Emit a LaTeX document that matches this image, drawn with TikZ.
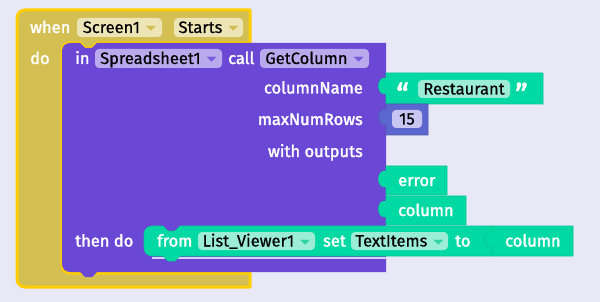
\documentclass[tikz,border=0pt]{standalone}
\usepackage{fontspec}
\setmainfont{Fira Sans}
\newfontfamily\lblfont{Fira Sans}[FakeBold=2]
\newfontfamily\fldfont{Fira Sans}[FakeBold=0.6]
\newfontfamily\symfont{DejaVu Sans}

\definecolor{bgcol}{HTML}{E9E8F6}
\definecolor{evtfill}{HTML}{D4BF52}
\definecolor{evtline}{HTML}{FFCE00}
\definecolor{evtfield}{HTML}{EEE5B6}
\definecolor{evtarrow}{HTML}{D2BD55}
\definecolor{procfill}{HTML}{6A47D4}
\definecolor{procfield}{HTML}{B9AAEE}
\definecolor{procarrow}{HTML}{7A5CDD}
\definecolor{txtfill}{HTML}{00D9A3}
\definecolor{txtedge}{HTML}{00C796}
\definecolor{txtfield}{HTML}{9BEDD6}
\definecolor{txtarrow}{HTML}{2FD3A4}
\definecolor{numfill}{HTML}{5C66CF}
\definecolor{numfield}{HTML}{C8C5F3}

% small flat triangle of a dropdown field
\newcommand\ddarrow[1]{\raisebox{2pt}{\scalebox{1.2}[0.6]{\symfont\fontsize{11}{11}\selectfont\textcolor{#1}{▼}}}}
% big quote mark, pulled down onto the text line
\newcommand\bigquote[1]{\raisebox{-13pt}{#1}}

\begin{document}
\begin{tikzpicture}[x=1pt,y=-1pt]
        \tikzset{
    lbl/.style={text=white, anchor=west, inner sep=0pt, text height=11pt, text depth=0pt, font=\lblfont\fontsize{16.5}{18}\selectfont},
    lblr/.style={lbl, anchor=east},
    quote/.style={lbl, text height=9pt, font=\lblfont\fontsize{31}{31}\selectfont},
    fld/.style={rounded corners=4pt, inner sep=0pt, text=black, text height=11pt, text depth=0pt, minimum height=19pt, font=\fldfont\fontsize{16.5}{18}\selectfont},
    evtblock/.style={fill=evtfill, draw=evtline, line width=3pt, line join=round},
    procblock/.style={fill=procfill},
    txtblock/.style={fill=txtfill, draw=txtedge, line width=0.6pt},
    numblock/.style={fill=numfill, draw=numfill!85!black, line width=0.6pt},
        }
        % value block with its output tab on the left
        \def\valshape(#1,#2)(#3,#4){(#1,#2) -- (#3,#2) -- (#3,#4) -- (#1,#4) -- (#1,#2+21) .. controls (#1-10,#2+23) and (#1-10,#2+3) .. (#1,#2+5) -- cycle}

        \fill[bgcol] (0,0) rectangle (600,302);

        % Draw the event block first, the procedure sits in its slot.
        \path[evtblock] (17,18) arc[start angle=180, end angle=270, radius=8] -- (250,10) -- (250,43)
            -- (97,43) -- (92,48) -- (85,48) -- (80,43) -- (70,43) arc[start angle=270, end angle=180, radius=8]
            -- (62,265) arc[start angle=180, end angle=90, radius=8] -- (250,273) -- (250,287)
            -- (25,287) arc[start angle=90, end angle=180, radius=8] -- cycle;

        % Spreadsheet call block.
        \path[procblock] (62,51) arc[start angle=180, end angle=270, radius=8] -- (80,43) -- (85,48) -- (92,48) -- (97,43)
            -- (386,43) -- (386,272) -- (97,272) -- (92,277) -- (85,277) -- (80,272)
            -- (70,272) arc[start angle=90, end angle=180, radius=8] -- cycle;

        % Arguments and outputs.
        \path[txtblock] \valshape(386,73)(543,104);
        \path[numblock] \valshape(386,104)(428,135);
        \path[txtblock] \valshape(386,166)(447,195);
        \path[txtblock] \valshape(386,196)(466,225);

        % Setter in the then do slot, with its value.
        \draw[white!75!procfill, line width=1.5pt] (152,258) -- (386,258);
        \path[txtblock] (144,234) arc[start angle=180, end angle=270, radius=8] -- (163,226) -- (168,231) -- (175,231) -- (180,226)
            -- (492,226) -- (492,256) -- (180,256) -- (175,261) -- (168,261) -- (163,256)
            -- (152,256) arc[start angle=90, end angle=180, radius=8] -- cycle;
        \path[txtblock] \valshape(492,226)(573,256);

        % Labels and fields, row by row.
        \node[lbl] (when) at (30,27.5) {when};
        \node[fld, fill=evtfield, minimum width=85pt] (screen) at (119.5,27.5) {Screen1\hspace{6pt}\ddarrow{evtarrow}};
        \node[fld, fill=evtfield, minimum width=69pt] (starts) at (208.5,27.5) {Starts\hspace{6pt}\ddarrow{evtarrow}};

        \node[lbl] (do) at (30,58.5) {do};
        \node[lbl] (in) at (75,58.5) {in};
        \node[fld, fill=procfield, minimum width=127pt] (sheet) at (158.5,58.5) {Spreadsheet1\hspace{6pt}\ddarrow{procarrow}};
        \node[lbl] (call) at (228,58.5) {call};
        \node[fld, fill=procfield, minimum width=109pt] (getcol) at (314.5,58.5) {GetColumn\hspace{6pt}\ddarrow{procarrow}};

        \node[lblr] (colname) at (363,88) {columnName};
        \node[quote] (lquote) at (396,88.5) {\bigquote{“}};
        \node[fld, fill=txtfield, minimum width=92pt, minimum height=18pt] (restaurant) at (464,89) {Restaurant};
        \node[quote] (rquote) at (515,88.5) {\bigquote{”}};

        \node[lblr] (maxrows) at (363,119.5) {maxNumRows};
        \node[fld, fill=numfield, minimum width=30pt, minimum height=18pt] (num) at (407,119) {15};

        \node[lblr] (outputs) at (363,151.5) {with outputs};
        \node[lbl] (error) at (398,180.5) {error};
        \node[lbl] (outcol) at (398,210.5) {column};

        \node[lbl] (thendo) at (75,241) {then do};
        \node[lbl] (from) at (157,241) {from};
        \node[fld, fill=txtfield, minimum width=117pt, minimum height=18pt] (viewer) at (256.5,241) {List\_Viewer1\hspace{6pt}\ddarrow{txtarrow}};
        \node[lbl] (set) at (323,241) {set};
        \node[fld, fill=txtfield, minimum width=97pt, minimum height=18pt] (items) at (399.5,241) {TextItems\hspace{6pt}\ddarrow{txtarrow}};
        \node[lbl] (to) at (455,241) {to};
        \node[lbl] (column) at (505,241) {column};
      \end{tikzpicture}
\end{document}
